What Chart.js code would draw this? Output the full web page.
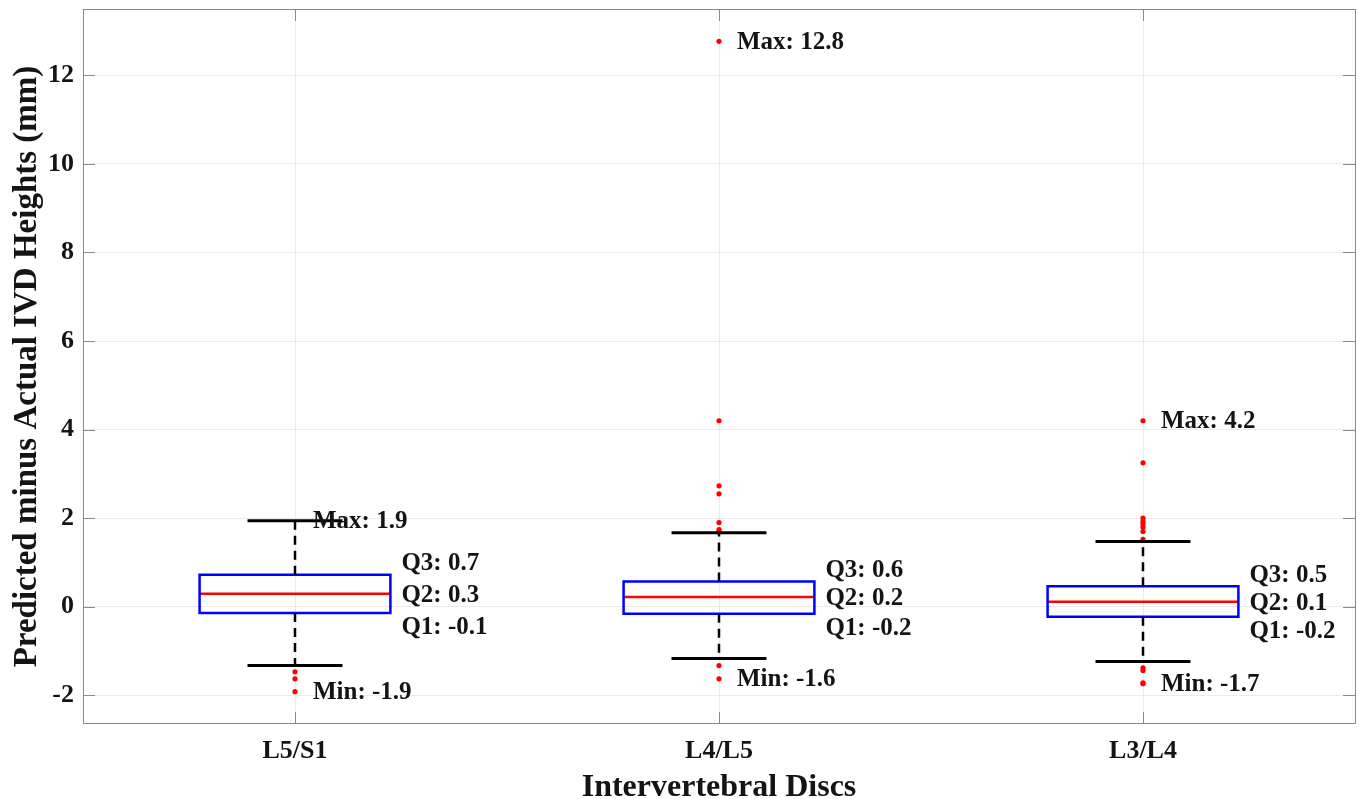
<!DOCTYPE html>
<html><head><meta charset="utf-8">
<script src="https://cdn.jsdelivr.net/npm/chart.js@4.4.1/dist/chart.umd.min.js"></script>
<style>html,body{margin:0;padding:0;background:#fff;overflow:hidden}#wrap{width:1359px;height:799px}</style>
</head><body><div id="wrap"><canvas id="c" width="1359" height="799"></canvas></div>
<script>
// ---- data ----
const categories = ['L5/S1', 'L4/L5', 'L3/L4'];
const q1 = [-0.14, -0.16, -0.23];
const medians = [0.29, 0.22, 0.11];
const q3 = [0.72, 0.57, 0.46];
const whiskerLow = [-1.33, -1.17, -1.24];
const whiskerHigh = [1.94, 1.67, 1.47];
const outliers = [
  [-1.47, -1.63, -1.92],
  [12.77, 4.2, 2.73, 2.55, 1.9, 1.74, 1.7, -1.33, -1.63],
  [4.2, 3.25, 2.0, 1.93, 1.87, 1.8, 1.7, 1.52, -1.38, -1.44, -1.72, -1.74]
];
const yTicks = [-2, 0, 2, 4, 6, 8, 10, 12];
const yTitle = 'Predicted minus Actual IVD Heights (mm)';
const xTitle = 'Intervertebral Discs';

// ---- styles ----
const FONT = "'Liberation Serif', 'Times New Roman', serif";
const BOX_HALF = 0.225;
const CAP_HALF = 0.112;
const FRAME = '#8a8a8a';
const GRID = '#ebebeb';
const TEXT = '#141414';

const datasets = [];
categories.forEach((c, i) => {
  const xc = i + 1;
  datasets.push({data: [{x: xc, y: q3[i]}, {x: xc, y: whiskerHigh[i]}], showLine: true, borderColor: '#000', borderWidth: 2.5, borderDash: [9, 6], pointRadius: 0});
  datasets.push({data: [{x: xc, y: q1[i]}, {x: xc, y: whiskerLow[i]}], showLine: true, borderColor: '#000', borderWidth: 2.5, borderDash: [9, 6], pointRadius: 0});
  datasets.push({data: [{x: xc - CAP_HALF, y: whiskerHigh[i]}, {x: xc + CAP_HALF, y: whiskerHigh[i]}], showLine: true, borderColor: '#000', borderWidth: 3, pointRadius: 0});
  datasets.push({data: [{x: xc - CAP_HALF, y: whiskerLow[i]}, {x: xc + CAP_HALF, y: whiskerLow[i]}], showLine: true, borderColor: '#000', borderWidth: 3, pointRadius: 0});
  datasets.push({data: [
    {x: xc - BOX_HALF, y: q1[i]}, {x: xc + BOX_HALF, y: q1[i]}, {x: xc + BOX_HALF, y: q3[i]},
    {x: xc - BOX_HALF, y: q3[i]}, {x: xc - BOX_HALF, y: q1[i]}],
    showLine: true, borderColor: '#0000ff', borderWidth: 2.5, pointRadius: 0, borderJoinStyle: 'miter', borderCapStyle: 'square'});
  datasets.push({data: [{x: xc - BOX_HALF, y: medians[i]}, {x: xc + BOX_HALF, y: medians[i]}], showLine: true, borderColor: '#ff0000', borderWidth: 2.5, pointRadius: 0});
  datasets.push({data: outliers[i].map(v => ({x: xc, y: v})), showLine: false, pointRadius: 2.6, pointBackgroundColor: '#ff0000', pointBorderWidth: 0, pointBorderColor: '#ff0000'});
});

const decor = {
  id: 'decor',
  beforeDatasetsDraw(chart) {
    const {ctx, chartArea: a, scales: {x, y}} = chart;
    ctx.save();
    ctx.strokeStyle = FRAME;
    ctx.lineWidth = 1;
    ctx.beginPath();
    yTicks.forEach(v => {
      const py = Math.round(y.getPixelForValue(v)) + 0.5;
      ctx.moveTo(a.left, py); ctx.lineTo(a.left + 12, py);
      ctx.moveTo(a.right, py); ctx.lineTo(a.right - 12, py);
    });
    categories.forEach((c, i) => {
      const px = Math.round(x.getPixelForValue(i + 1)) + 0.5;
      ctx.moveTo(px, a.top); ctx.lineTo(px, a.top + 12);
      ctx.moveTo(px, a.bottom); ctx.lineTo(px, a.bottom - 12);
    });
    ctx.stroke();
    ctx.strokeRect(Math.round(a.left) + 0.5, Math.round(a.top) + 0.5, Math.round(a.right - a.left), Math.round(a.bottom - a.top) - 1);
    ctx.restore();
  },
  afterDatasetsDraw(chart) {
    const {ctx, scales: {x, y}} = chart;
    ctx.save();
    ctx.font = 'bold 25px ' + FONT;
    ctx.fillStyle = TEXT;
    ctx.textAlign = 'left';
    ctx.textBaseline = 'middle';
    categories.forEach((c, i) => {
      const xc = i + 1;
      const all = outliers[i].concat([whiskerHigh[i], whiskerLow[i]]);
      const mx = Math.max(...all), mn = Math.min(...all);
      const px = x.getPixelForValue(xc) + 18;
      ctx.fillText('Max: ' + mx.toFixed(1), px, y.getPixelForValue(mx) + 1);
      ctx.fillText('Min: ' + mn.toFixed(1), px, y.getPixelForValue(mn) + 1);
      const qx = x.getPixelForValue(xc + BOX_HALF) + 11;
      ctx.fillText('Q3: ' + q3[i].toFixed(1), qx, y.getPixelForValue(q3[i]) - 11);
      ctx.fillText('Q2: ' + medians[i].toFixed(1), qx, y.getPixelForValue(medians[i]) + 2);
      ctx.fillText('Q1: ' + q1[i].toFixed(1), qx, y.getPixelForValue(q1[i]) + 15);
    });
    ctx.restore();
  }
};

new Chart(document.getElementById('c'), {
  type: 'scatter',
  data: {datasets},
  options: {
    responsive: false,
    animation: false,
    devicePixelRatio: 1,
    layout: {padding: {top: 9, right: 2, left: 0, bottom: 0}},
    plugins: {legend: {display: false}, tooltip: {enabled: false}},
    scales: {
      x: {
        type: 'linear', min: 0.5, max: 3.5,
        afterBuildTicks: s => { s.ticks = categories.map((c, i) => ({value: i + 1})); },
        afterFit: s => { s.height = 75; s.paddingLeft = 0; s.paddingRight = 0; },
        ticks: {callback: v => categories[v - 1], font: {family: FONT, size: 26, weight: 'bold'}, color: TEXT, padding: 12, maxRotation: 0, autoSkip: false},
        grid: {color: GRID, drawTicks: false, lineWidth: 1},
        border: {display: false},
        title: {display: true, text: xTitle, font: {family: FONT, size: 32, weight: 'bold', lineHeight: 0.7}, color: TEXT, padding: 0}
      },
      y: {
        type: 'linear', min: -2.65, max: 13.5,
        afterBuildTicks: s => { s.ticks = yTicks.map(v => ({value: v})); },
        afterFit: s => { s.width = 83; s.paddingTop = 0; s.paddingBottom = 0; },
        ticks: {font: {family: FONT, size: 26, weight: 'bold'}, color: TEXT, padding: 9, autoSkip: false},
        grid: {color: GRID, drawTicks: false, lineWidth: 1},
        border: {display: false},
        title: {display: true, text: yTitle, font: {family: FONT, size: 33, weight: 'bold', lineHeight: 1}, color: TEXT, padding: {top: 11, bottom: 0}}
      }
    }
  },
  plugins: [decor]
});
</script></body></html>
